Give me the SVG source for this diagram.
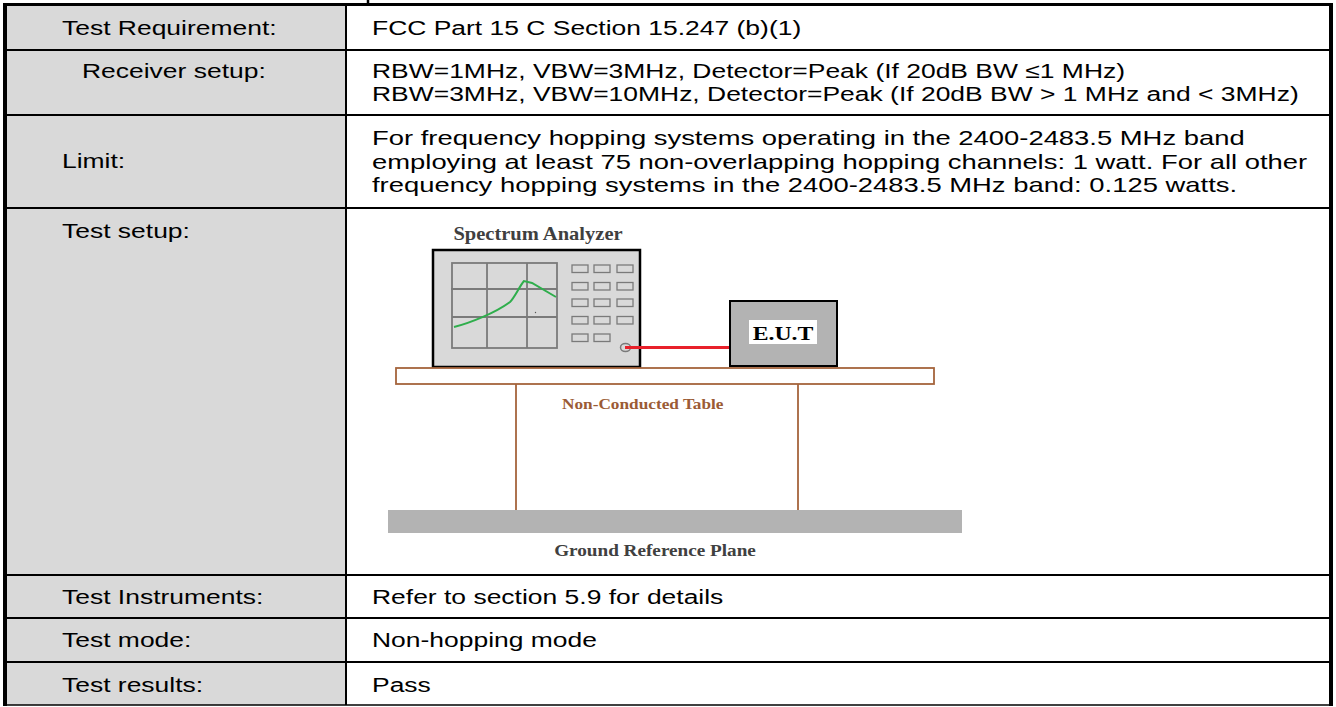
<svg xmlns="http://www.w3.org/2000/svg" width="1336" height="707" viewBox="0 0 1336 707">
<style>
.t{font-family:"Liberation Sans",Arial,sans-serif;font-size:21px;fill:#000}
.sf{font-family:"Liberation Serif","Times New Roman",serif;font-weight:bold}
.grid{stroke:#7a7a7a;stroke-width:1.8;fill:none}
.btn{fill:#d9d9d9;stroke:#7a7a7a;stroke-width:1.3}
.brown{stroke:#a5643c;stroke-width:1.8}
</style>
<rect x="0" y="0" width="1336" height="707" fill="#fff"/>
<g id="table">
  <rect x="5" y="5" width="341" height="700" fill="#d9d9d9"/>
  <g stroke="#000" fill="none">
    <line x1="346" y1="5" x2="346" y2="705" stroke-width="2"/>
    <line x1="5" y1="50" x2="1331" y2="50" stroke-width="2"/>
    <line x1="5" y1="115" x2="1331" y2="115" stroke-width="2"/>
    <line x1="5" y1="208" x2="1331" y2="208" stroke-width="2"/>
    <line x1="5" y1="575" x2="1331" y2="575" stroke-width="2"/>
    <line x1="5" y1="618" x2="1331" y2="618" stroke-width="2"/>
    <line x1="5" y1="662" x2="1331" y2="662" stroke-width="2"/>
    <line x1="5" y1="705" x2="1331" y2="705" stroke-width="1.5"/>
    <line x1="3" y1="4.5" x2="1333" y2="4.5" stroke-width="3"/>
    <line x1="5" y1="3" x2="5" y2="706" stroke-width="4"/>
    <line x1="1331" y1="3" x2="1331" y2="706" stroke-width="4"/>
    <line x1="368" y1="0" x2="368" y2="3" stroke-width="2.5"/>
  </g>
</g>
<g id="labels">
  <text class="t" transform="translate(62,34.5) scale(1.26,1)">Test Requirement:</text>
  <text class="t" transform="translate(82,78) scale(1.26,1)">Receiver setup:</text>
  <text class="t" transform="translate(62,168) scale(1.26,1)">Limit:</text>
  <text class="t" transform="translate(62,238) scale(1.26,1)">Test setup:</text>
  <text class="t" transform="translate(62,603.5) scale(1.26,1)">Test Instruments:</text>
  <text class="t" transform="translate(62,647) scale(1.26,1)">Test mode:</text>
  <text class="t" transform="translate(62,691.5) scale(1.26,1)">Test results:</text>
</g>
<g id="values">
  <text class="t" transform="translate(372,34.5) scale(1.26,1)">FCC Part 15 C Section 15.247 (b)(1)</text>
  <text class="t" transform="translate(372,78) scale(1.26,1)">RBW=1MHz, VBW=3MHz, Detector=Peak (If 20dB BW ≤1 MHz)</text>
  <text class="t" transform="translate(372,101) scale(1.26,1)">RBW=3MHz, VBW=10MHz, Detector=Peak (If 20dB BW &gt; 1 MHz and &lt; 3MHz)</text>
  <text class="t" transform="translate(372,145) scale(1.305,1)">For frequency hopping systems operating in the 2400-2483.5 MHz band</text>
  <text class="t" transform="translate(372,168.5) scale(1.305,1)">employing at least 75 non-overlapping hopping channels: 1 watt. For all other</text>
  <text class="t" transform="translate(372,192) scale(1.305,1)">frequency hopping systems in the 2400-2483.5 MHz band: 0.125 watts.</text>
  <text class="t" transform="translate(372,603.5) scale(1.26,1)">Refer to section 5.9 for details</text>
  <text class="t" transform="translate(372,647) scale(1.26,1)">Non-hopping mode</text>
  <text class="t" transform="translate(372,691.5) scale(1.26,1)">Pass</text>
</g>
<g id="spectrum-analyzer">
  <text class="sf" font-size="18" fill="#3f3f3f" text-anchor="middle" transform="translate(538,240) scale(1.14,1)">Spectrum Analyzer</text>
  <rect x="433" y="250" width="207" height="117" fill="#d9d9d9" stroke="#000" stroke-width="2.5"/>
  <rect class="grid" x="452" y="263" width="105" height="85"/>
  <line class="grid" x1="487" y1="263" x2="487" y2="348"/>
  <line class="grid" x1="527" y1="263" x2="527" y2="348"/>
  <line class="grid" x1="451" y1="289" x2="557" y2="289"/>
  <line class="grid" x1="452" y1="317" x2="557" y2="317"/>
  <path d="M454,327 C470,323 495,313 510,302 C515,297 519,287 524,281 L532,283 L556,297" fill="none" stroke="#2fae4c" stroke-width="2"/>
  <circle cx="535.5" cy="312.5" r="0.7" fill="#555"/>
  <rect class="btn" x="572" y="265" width="16" height="7.5"/>
  <rect class="btn" x="594" y="265" width="16" height="7.5"/>
  <rect class="btn" x="617" y="265" width="16" height="7.5"/>
  <rect class="btn" x="572" y="282.5" width="16" height="7.5"/>
  <rect class="btn" x="594" y="282.5" width="16" height="7.5"/>
  <rect class="btn" x="617" y="282.5" width="16" height="7.5"/>
  <rect class="btn" x="572" y="299" width="16" height="7.5"/>
  <rect class="btn" x="594" y="299" width="16" height="7.5"/>
  <rect class="btn" x="617" y="299" width="16" height="7.5"/>
  <rect class="btn" x="572" y="316.5" width="16" height="7.5"/>
  <rect class="btn" x="594" y="316.5" width="16" height="7.5"/>
  <rect class="btn" x="617" y="316.5" width="16" height="7.5"/>
  <rect class="btn" x="572" y="334" width="16" height="7.5"/>
  <rect class="btn" x="594" y="334" width="16" height="7.5"/>
  <ellipse cx="625.5" cy="347.5" rx="5" ry="4" fill="#d9d9d9" stroke="#7a7a7a" stroke-width="1.5"/>
</g>
<g id="connectors">
  <line x1="625" y1="347.5" x2="731" y2="347.5" stroke="#e8202a" stroke-width="3.2"/>
</g>
<g id="eut">
  <rect x="730" y="301" width="107" height="65" fill="#b3b3b3" stroke="#000" stroke-width="2"/>
  <rect x="749" y="320" width="68" height="24" fill="#fff"/>
  <text class="sf" font-size="19" fill="#000" text-anchor="middle" transform="translate(783,340) scale(1.25,1)">E.U.T</text>
</g>
<g id="non-conducted-table">
  <rect class="brown" x="396" y="368" width="538" height="16" fill="#fff"/>
  <line class="brown" x1="516" y1="384" x2="516" y2="510"/>
  <line class="brown" x1="798" y1="384" x2="798" y2="510"/>
  <text class="sf" font-size="15" fill="#9b5b35" transform="translate(562,409) scale(1.15,1)">Non-Conducted Table</text>
</g>
<g id="ground-plane">
  <rect x="388" y="510" width="574" height="23" fill="#b3b3b3"/>
  <text class="sf" font-size="16" fill="#404040" text-anchor="middle" transform="translate(655,556) scale(1.2,1)">Ground Reference Plane</text>
</g>
</svg>
